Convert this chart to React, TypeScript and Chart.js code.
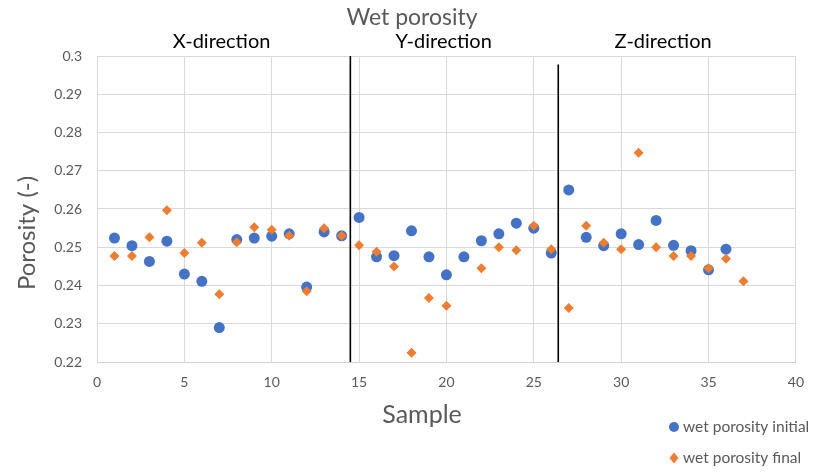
import React, { useEffect, useRef } from "react";
import { Chart, registerables } from "chart.js";

Chart.register(...registerables);

const samplesInitial = [1,2,3,4,5,6,7,8,9,10,11,12,13,14,15,16,17,18,19,20,21,22,23,24,25,26,27,28,29,30,31,32,33,34,35,36];
const wetPorosityInitial = [0.2524,0.2504,0.2463,0.2516,0.2430,0.2411,0.2290,0.2520,0.2524,0.2529,0.2535,0.2396,0.2540,0.2530,0.2578,0.2475,0.2478,0.2543,0.2475,0.2428,0.2475,0.2517,0.2535,0.2563,0.2550,0.2485,0.2650,0.2526,0.2504,0.2535,0.2507,0.2570,0.2505,0.2491,0.2441,0.2495];
const samplesFinal = [1,2,3,4,5,6,7,8,9,10,11,12,13,14,15,16,17,18,19,20,21,22,23,24,25,26,27,28,29,30,31,32,33,34,35,36,37];
const wetPorosityFinal = [0.2477,0.2477,0.2526,0.2597,0.2485,0.2512,0.2377,0.2513,0.2552,0.2546,0.2530,0.2385,0.2550,0.2530,0.2505,0.2488,0.2450,0.2224,0.2367,0.2347,null,0.2445,0.2500,0.2492,0.2556,0.2495,0.2341,0.2556,0.2512,0.2495,0.2747,0.2500,0.2477,0.2477,0.2445,0.2470,0.2411];
const dividerX = [14.5, 26.4];
const dividerTop = [0.3, 0.2978];
const dividerBottom = [0.22, 0.22];
const directionLabels = ["X-direction", "Y-direction", "Z-direction"];
const directionLabelX = [7.13, 19.84, 32.4];
const seriesNames = ["wet porosity initial", "wet porosity final"];
const chartTitle = "Wet porosity";
const xTitle = "Sample";
const yTitle = "Porosity (-)";

const BLUE = "#4472C4";
const ORANGE = "#ED7D31";
const FONT = "Lato, 'Open Sans', sans-serif";

const overlay = {
  id: "overlay",
  afterDraw(chart: any) {
    const ctx = chart.ctx;
    const xs = chart.scales.x;
    ctx.save();
    ctx.textAlign = "center";
    ctx.textBaseline = "middle";
    // main title
    ctx.fillStyle = "#595959";
    ctx.font = `23px ${FONT}`;
    ctx.fillText(chartTitle, 412, 18);
    // direction labels
    ctx.fillStyle = "#000000";
    ctx.font = `20px ${FONT}`;
    directionLabels.forEach((t, i) => {
      ctx.fillText(t, xs.getPixelForValue(directionLabelX[i]), 42);
    });
    // axis titles
    ctx.fillStyle = "#595959";
    ctx.font = `25px ${FONT}`;
    ctx.fillText(xTitle, 422, 415);
    ctx.save();
    ctx.translate(27, 233);
    ctx.rotate(-Math.PI / 2);
    ctx.font = `24px ${FONT}`;
    ctx.fillText(yTitle, 0, 0);
    ctx.restore();
    // legend
    ctx.textAlign = "left";
    ctx.font = `15.5px ${FONT}`;
    const lx = 674;
    const ly = [427, 458];
    ctx.fillStyle = BLUE;
    ctx.beginPath();
    ctx.arc(lx, ly[0], 5, 0, Math.PI * 2);
    ctx.fill();
    ctx.fillStyle = ORANGE;
    ctx.beginPath();
    ctx.moveTo(lx, ly[1] - 5.5);
    ctx.lineTo(lx + 4.5, ly[1]);
    ctx.lineTo(lx, ly[1] + 5.5);
    ctx.lineTo(lx - 4.5, ly[1]);
    ctx.closePath();
    ctx.fill();
    ctx.fillStyle = "#595959";
    ctx.fillText(seriesNames[0], lx + 9, ly[0]);
    ctx.fillText(seriesNames[1], lx + 9, ly[1]);
    ctx.restore();
  },
};

export default function App() {
  const ref = useRef<HTMLCanvasElement>(null);
  useEffect(() => {
    document.body.style.margin = "0";
    const initialPts = samplesInitial.map((x, i) => ({ x, y: wetPorosityInitial[i] }));
    const finalPts = samplesFinal
      .map((x, i) => ({ x, y: wetPorosityFinal[i] }))
      .filter((p) => p.y !== null);
    const dividers = dividerX.map((x, i) => ({
      type: "line",
      data: [
        { x, y: dividerBottom[i] },
        { x, y: dividerTop[i] },
      ],
      borderColor: "#000000",
      borderWidth: 1.6,
      pointRadius: 0,
      showLine: true,
      fill: false,
      order: 0,
    }));
    const chart = new Chart(ref.current!, {
      type: "scatter",
      data: {
        datasets: [
          ...dividers,
          {
            label: seriesNames[0],
            data: initialPts,
            backgroundColor: BLUE,
            borderColor: BLUE,
            pointStyle: "circle",
            pointRadius: 5.5,
            borderWidth: 0,
            order: 2,
          },
          {
            label: seriesNames[1],
            data: finalPts,
            backgroundColor: ORANGE,
            borderColor: ORANGE,
            pointStyle: "rectRot",
            pointRadius: 5,
            borderWidth: 0,
            order: 1,
          },
        ] as any,
      },
      options: {
        animation: false,
        responsive: false,
        maintainAspectRatio: false,
        layout: { padding: { left: 0, top: 56, right: 12, bottom: 0 } },
        plugins: {
          legend: { display: false },
          title: { display: false },
          tooltip: { enabled: false },
        },
        scales: {
          x: {
            type: "linear",
            min: 0,
            max: 40,
            ticks: {
              stepSize: 5,
              padding: 12,
              color: "#595959",
              font: { family: FONT, size: 14 },
            },
            grid: { color: "#d9d9d9", lineWidth: 1, drawTicks: false },
            border: { color: "#d0d0d0", width: 1 },
            afterFit: (s: any) => {
              s.height = 110;
            },
          },
          y: {
            type: "linear",
            min: 0.22,
            max: 0.3,
            ticks: {
              stepSize: 0.01,
              padding: 15,
              color: "#595959",
              font: { family: FONT, size: 14 },
              callback: (v: any) => String(Number(Number(v).toFixed(2))),
            },
            grid: { color: "#d9d9d9", lineWidth: 1, drawTicks: false },
            border: { color: "#d9d9d9", width: 1 },
            afterFit: (s: any) => {
              s.width = 97;
            },
          },
        },
      },
      plugins: [overlay],
    });
    return () => chart.destroy();
  }, []);
  return (
    <div style={{ width: 816, height: 472, background: "#fff" }}>
      <canvas ref={ref} width={816} height={472} style={{ display: "block" }} />
    </div>
  );
}
